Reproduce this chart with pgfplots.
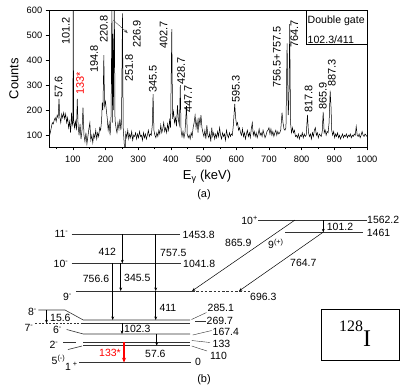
\documentclass[border=0pt]{standalone}
\usepackage{fontspec}
\setmainfont{Liberation Sans}
\newfontfamily\seriffont{Liberation Serif}
\usepackage{pgfplots}
\pgfplotsset{compat=1.18}
\usetikzlibrary{arrows.meta}
\newcommand{\fs}[1]{\fontsize{#1}{#1}\selectfont}

\begin{document}
\begin{tikzpicture}[x=1bp,y=1bp]
\tikzset{
  lev/.style={line width=0.6bp, black!80},
  tr/.style={line width=0.5bp, black, -{Stealth[length=3.5bp,width=2.8bp]}},
  lab/.style={inner sep=0pt, font=\fs{10.5}},
  pk/.style={rotate=90, anchor=west, inner sep=0pt, font=\fs{11}},
}
% ---------------- (a) gated spectrum ----------------
\begin{axis}[
  at={(49bp,-147bp)}, anchor=south west,
  scale only axis, width=318bp, height=137bp,
  xmin=27, xmax=1000, ymin=53, ymax=600,
  xtick={100,200,...,1000}, ytick={100,200,...,600},
  minor xtick={50,150,...,950},
  tick align=outside, tick pos=left,
  major tick length=3.3bp, minor tick length=2bp,
  axis line style={line width=0.8bp},
  every tick/.style={black, line width=0.7bp},
  tick label style={font=\fs{9.3}},
  xticklabel style={yshift=-2.5bp},
  /pgf/number format/assume math mode=true,
  /pgf/number format/1000 sep={},
  clip mode=individual,
]
\addplot[black, line width=0.5bp] coordinates {
(28,95) (31,110) (34,130) (37,150) (40,145) (43,160) (46,170) (49,155) (52,180) (55,170)
(57.6,245) (60,175) (63,150) (66,185) (69,170) (72,190) (75,165) (78,185) (81,150) (84,170)
(87,130) (90,155) (93,110) (96,190) (98,140) (100,150) (101.2,640) (102.5,160) (105,130) (108,155)
(111,120) (113.5,245) (116,140) (119,100) (122,145) (125,85) (128,120) (131,210) (134,100) (137,75)
(140,110) (143,65) (146,95) (149,125) (152,150) (155,80) (158,100) (161,70) (164,105) (167,90)
(170,120) (173,85) (176,110) (179,95) (182,130) (185,120) (188,160) (190,230) (192,200) (194.8,420)
(197,215) (200,235) (202,205) (205,170) (208,120) (211,150) (214,100) (217,180) (219.5,640) (221,150)
(222.5,505) (224,200) (226.9,640) (229,160) (232,130) (235,110) (238,150) (241,125) (244,165) (247,120)
(249,160) (251.8,587) (254,130) (256,90) (258,50) (260,40) (262,110) (265,90) (268,120) (271,85)
(274,105) (277,90) (280,115) (283,80) (286,100) (289,95) (292,110) (295,85) (298,105) (301,90)
(304,115) (307,95) (310,100) (313,80) (316,110) (319,90) (322,105) (325,85) (328,100) (331,120)
(334,95) (337,105) (340,100) (343,140) (345.5,264) (348,120) (351,100) (354,90) (357,110) (360,95)
(363,120) (366,105) (369,140) (372,110) (375,125) (378,150) (381,115) (384,130) (387,110) (390,145)
(393,120) (396,160) (399,130) (402.7,524) (405,165) (408,195) (411,150) (414,170) (417,135) (420,220)
(423,160) (426,140) (428.7,300) (431,120) (434,95) (437,115) (440,90) (443,110) (447.7,217) (450,105)
(453,90) (456,100) (459,85) (462,110) (465,95) (468,130) (471,150) (474,180) (477,130) (480,160)
(483,110) (486,170) (489,140) (492,180) (495,130) (498,110) (501,95) (504,120) (507,85) (510,140)
(513,100) (516,90) (519,110) (522,75) (525,130) (528,95) (531,110) (534,85) (537,105) (540,90)
(543,115) (546,95) (549,130) (552,100) (555,85) (558,110) (561,95) (564,105) (567,80) (570,120)
(573,100) (576,90) (579,110) (582,95) (585,105) (588,100) (591,140) (595.3,225) (598,170) (601,140)
(604,150) (607,120) (610,130) (613,110) (616,100) (619,125) (622,95) (625,110) (628,85) (631,105)
(634,120) (637,95) (640,110) (643,90) (646,125) (649,150) (652,100) (655,115) (658,95) (661,110)
(664,90) (667,105) (670,125) (673,100) (676,110) (679,95) (682,120) (685,105) (688,90) (691,100)
(694,115) (697,120) (700,130) (703,105) (706,125) (709,100) (712,115) (715,95) (718,110) (721,120)
(724,100) (727,115) (730,105) (733,110) (736,120) (740,190) (743,150) (746,125) (749,120) (752,130)
(755.5,467) (757.5,300) (759,180) (761,230) (763.5,544) (766,150) (769,110) (772,130) (775,110) (778,120)
(781,95) (784,100) (787,90) (790,105) (793,85) (796,100) (799,95) (802,110) (805,90) (808,105)
(811,95) (814,100) (817.8,181) (821,110) (824,95) (827,105) (830,85) (833,110) (836,95) (839,120)
(842,130) (845,100) (848,110) (851,90) (854,105) (857,100) (860,95) (863,115) (865.9,193) (869,110)
(872,120) (875,100) (878,115) (881,110) (884,150) (887.3,278) (890,210) (892,120) (895,100) (898,115)
(901,90) (904,105) (907,95) (910,110) (913,90) (916,100) (919,85) (922,95) (925,105) (928,90)
(931,100) (934,95) (937,105) (940,90) (943,100) (946,95) (949,105) (952,90) (955,100) (958,95)
(961,105) (964,100) (967,135) (970,100) (973,95) (976,105) (979,90) (982,100) (985,115) (988,100)
(991,95) (994,105) (997,100) (1000,95)
};
% peak labels
\node[pk] at (axis cs:56,250) {57.6};
\node[pk] at (axis cs:78.6,460) {101.2};
\node[pk, text=red] at (axis cs:122.3,261) {133*};
\node[pk] at (axis cs:165.2,348) {194.8};
\node[pk] at (axis cs:194.9,468) {220.8};
\node[pk] at (axis cs:296,448) {226.9};
\node[pk] at (axis cs:272.3,312) {251.8};
\node[pk] at (axis cs:344.9,268) {345.5};
\node[pk] at (axis cs:377.3,444) {402.7};
\node[pk] at (axis cs:431.5,300) {428.7};
\node[pk] at (axis cs:452.9,189) {447.7};
\node[pk] at (axis cs:598.9,229) {595.3};
\node[pk] at (axis cs:724.4,289) {756.5+757.5};
\node[pk] at (axis cs:777.4,448) {764.7};
\node[pk] at (axis cs:821.1,189) {817.8};
\node[pk] at (axis cs:865.2,201) {865.9};
\node[pk] at (axis cs:892.8,293) {887.3};
\draw[line width=0.4bp, black!70, -{Stealth[length=4bp,width=3bp]}] (axis cs:223,560) -- (axis cs:268,508);
% gate box
\draw[line width=0.6bp] (axis cs:813,463) rectangle (axis cs:1000,600);
\node[anchor=west, inner sep=0pt, font=\fs{10.6}] at (axis cs:818,557) {Double gate};
\node[anchor=west, inner sep=0pt, font=\fs{10.6}] at (axis cs:818,483) {102.3/411};
\end{axis}

% ---------------- (b) level scheme and page texts ----------------
\begin{axis}[
  at={(0bp,-388bp)}, anchor=south west,
  scale only axis, width=403bp, height=388bp,
  xmin=0, xmax=403, ymin=0, ymax=388, y dir=reverse,
  hide axis, clip=false,
]
% labels of panel (a)
\node[rotate=90, font=\fs{13}] at (14,78.7) {Counts};
\node[font=\fs{13}] at (207,177) {E\textsubscript{γ} (keV)};
\node[font=\fs{11}] at (204,195) {(a)};

% levels
\draw[lev] (71.7,234) -- (180,234);
\draw[lev] (71.7,263.3) -- (181,263.3);
\draw[lev] (76,291) -- (192,291);
\draw[lev, dash pattern=on 2.5bp off 1.8bp] (192,291) -- (250,291);
\draw[lev] (38.3,310) -- (65,310) -- (83.3,320) -- (190,320);
\draw[lev, dash pattern=on 2bp off 1.5bp] (35,323.3) -- (83.3,323.3);
\draw[lev] (83.3,323.3) -- (190,323.3);
\draw[lev] (66.7,329.5) -- (83.3,334) -- (190,334);
\draw[lev] (63,342.3) -- (76,342.3);
\draw[lev] (83.3,342.3) -- (190,342.3);
\draw[lev] (68,349.5) -- (82,346);
\draw[lev] (83.3,345.7) -- (190,345.7);
\draw[lev] (79.3,362.7) -- (190.7,362.7);
\draw[lev] (258,220) -- (366.7,220);
\draw[lev] (285,232.3) -- (363,232.3);
% leaders to energy labels
\draw[lev, line width=0.4bp] (191.5,319.5) -- (206.5,312.5);
\draw[lev, line width=0.4bp] (195,321) -- (205.5,321);
\draw[lev, line width=0.4bp] (192.7,335) -- (211.7,330.5);
\draw[lev, line width=0.4bp] (191.7,340.5) -- (210,342.5);
\draw[lev, line width=0.4bp] (191.7,346) -- (207,351);

% transitions
\draw[tr] (122.3,234) -- (122.3,263.3);
\draw[tr] (120.7,263.3) -- (120.7,291);
\draw[tr] (155.7,234) -- (155.7,291);
\draw[tr] (112.7,263.3) -- (112.7,320);
\draw[tr] (155.7,291) -- (155.7,320);
\draw[tr] (46.5,310) -- (46.5,323.3);
\draw[tr] (122,323.3) -- (122,334);
\draw[tr] (156.7,334) -- (156.7,345.7);
\draw[line width=1.1bp, red, -{Stealth[length=5bp,width=4bp]}] (124,342.3) -- (124,362.7);
\draw[tr] (323.3,220) -- (323.3,232.3);
\draw[tr] (295,220) -- (192,291);
\draw[tr] (323,232.3) -- (239,291);

% spins
\node[lab, anchor=east] at (68.5,234) {11\textsuperscript{-}};
\node[lab, anchor=east] at (68.5,263.5) {10\textsuperscript{-}};
\node[lab, anchor=east] at (72,297) {9\textsuperscript{-}};
\node[lab, anchor=east] at (37,311.5) {8\textsuperscript{-}};
\node[lab, anchor=east] at (33.5,328.3) {7\textsuperscript{-}};
\node[lab, anchor=east] at (62,330) {6\textsuperscript{-}};
\node[lab, anchor=east] at (58.5,345) {2\textsuperscript{-}};
\node[lab, anchor=west] at (51.5,360) {5\textsuperscript{(-)}};
\node[lab, anchor=west] at (65,366) {1\,\textsuperscript{+}};
\node[lab, anchor=east] at (258,220.5) {10\textsuperscript{+}};
\node[lab, anchor=west] at (268,244) {9\textsuperscript{(+)}};
% level energies
\node[lab, anchor=west] at (182.5,234.5) {1453.8};
\node[lab, anchor=west] at (183,264) {1041.8};
\node[lab, anchor=west] at (250,296.5) {696.3};
\node[lab, anchor=west] at (207.5,308.3) {285.1};
\node[lab, anchor=west] at (206.5,320.5) {269.7};
\node[lab, anchor=west] at (212.5,331.7) {167.4};
\node[lab, anchor=west] at (212.5,344.3) {133};
\node[lab, anchor=west] at (210,355.8) {110};
\node[lab, anchor=west] at (195,362) {0};
\node[lab, anchor=west] at (367,220) {1562.2};
\node[lab, anchor=west] at (366.7,233) {1461};
% transition energies
\node[lab, anchor=west] at (98.3,251.7) {412};
\node[lab, anchor=west] at (160,252.7) {757.5};
\node[lab, anchor=west] at (82.7,279.3) {756.6};
\node[lab, anchor=west] at (124,277.7) {345.5};
\node[lab, anchor=west] at (159.3,308.3) {411};
\node[lab, anchor=west] at (50,318.3) {15.6};
\node[lab, anchor=west] at (124,328.8) {102.3};
\node[lab, anchor=west] at (145,354.3) {57.6};
\node[lab, anchor=west, text=red] at (99,353.3) {133*};
\node[lab, anchor=west] at (326.7,226.7) {101.2};
\node[lab, anchor=west] at (225,243.3) {865.9};
\node[lab, anchor=west] at (290,263.3) {764.7};
\node[font=\fs{11}] at (204,379.3) {(b)};
% nucleus box
\draw[line width=0.9bp] (321.7,309) rectangle (399.3,360.7);
\node[anchor=base west, inner sep=0pt, font=\seriffont] at (339,346)
  {\fs{16}\raisebox{15bp}{128}\fs{24}I};
\end{axis}
\pgfresetboundingbox
\useasboundingbox (0,0) rectangle (403,-388);
\end{tikzpicture}
\end{document}
